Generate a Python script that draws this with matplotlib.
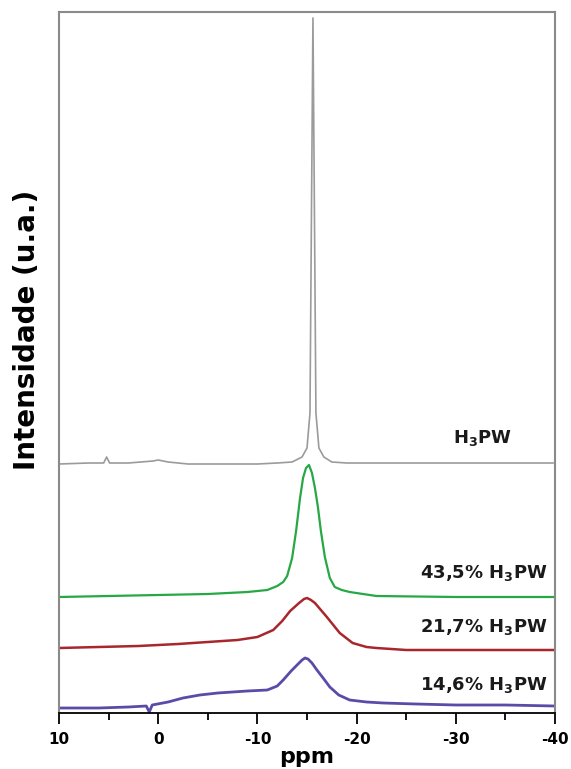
import numpy as np
import matplotlib
matplotlib.use('Agg')
import matplotlib.pyplot as plt
from matplotlib.ticker import MultipleLocator

# 31P NMR spectra (intensity in arbitrary units)
ppm_h3pw = [10, 7, 5.5, 5.2, 4.9, 3, 0.5, 0, -1, -3, -5, -8, -10, -12, -13.5, -14.5, -15.0,
            -15.3, -15.45, -15.6, -15.75, -15.9, -16.2, -16.7, -17.5, -19, -25, -30, -35, -39.8]
int_h3pw = [249, 250, 250, 256, 250, 250, 252, 253, 251, 249, 249, 249, 249, 250, 251, 256, 265,
            300, 500, 695, 500, 300, 265, 256, 251, 250, 250, 250, 250, 250]

ppm_435 = [10, 5, 0, -5, -9, -11, -12, -12.6, -13.0, -13.5, -13.9, -14.3, -14.6, -14.9, -15.2,
           -15.5, -15.8, -16.1, -16.4, -16.8, -17.3, -17.8, -18.5, -19.3, -22, -30, -40]
int_435 = [116, 117, 118, 119, 121, 123, 127, 131, 137, 155, 182, 215, 235, 245, 248,
           240, 225, 206, 182, 156, 135, 126, 123, 121, 117, 116, 116]

ppm_217 = [10, 6, 2, -2, -5, -8, -10, -11.6, -12.5, -13.3, -14.2, -14.7, -15.0, -15.4, -15.8,
           -17.0, -18.3, -19.6, -21, -22, -25, -30, -35, -40]
int_217 = [65, 66, 67, 69, 71, 73, 76, 83, 92, 102, 110, 114, 115, 113, 110,
           96, 80, 70, 66, 65, 63, 63, 63, 63]

ppm_146 = [10, 6, 3, 1.2, 0.9, 0.6, -1, -2.5, -4.2, -6, -7.5, -9, -11, -12, -12.6, -13.4, -14.0,
           -14.5, -14.8, -15.1, -15.5, -16.0, -16.7, -17.3, -18.2, -19.3, -21, -22.7, -26, -30,
           -35, -40]
int_146 = [5, 5, 6, 7, 1, 8, 11, 15, 18, 20, 21, 22, 23, 27, 33, 42, 48,
           53, 55, 54, 50, 43, 34, 26, 18, 13, 11, 10, 9, 8,
           8, 7]

labels = ['H$_3$PW', '43,5% H$_3$PW', '21,7% H$_3$PW', '14,6% H$_3$PW']
label_pos = [(-35.7, 270), (-39.3, 135), (-39.3, 81), (-39.3, 23)]
colors = ['#9b9b9b', '#27a844', '#a8272d', '#5b4ba8']

plt.rcParams['font.family'] = 'DejaVu Sans'
plt.rcParams['font.weight'] = 'bold'
plt.rcParams['axes.unicode_minus'] = False
plt.rcParams['mathtext.fontset'] = 'custom'
plt.rcParams['mathtext.rm'] = 'DejaVu Sans:bold'
plt.rcParams['mathtext.bf'] = 'DejaVu Sans:bold'


def main():
  fig = plt.figure(figsize=(5.71, 7.69), dpi=100)
  ax = fig.add_axes([59/571, 1-713/769, (555-59)/571, (713-12)/769])

  series = [(ppm_h3pw, int_h3pw, 1.2), (ppm_435, int_435, 1.6),
            (ppm_217, int_217, 1.8), (ppm_146, int_146, 2.0)]
  for (xs, ys, lw), col in zip(series, colors):
    ax.plot(xs, ys, color=col, lw=lw)

  for txt, (x, y) in zip(labels, label_pos):
    ax.text(x, y, txt, ha='right', va='baseline', fontsize=13, fontweight='bold', color='#1a1a1a')

  ax.set_xlim(10, -40)
  ax.set_ylim(0, 701)
  ax.xaxis.set_major_locator(MultipleLocator(10))
  ax.xaxis.set_minor_locator(MultipleLocator(5))
  ax.tick_params(axis='x', which='major', direction='out', length=8, width=1.3, labelsize=11, pad=6)
  ax.tick_params(axis='x', which='minor', direction='out', length=5, width=1.3)
  ax.set_yticks([])
  for lab in ax.get_xticklabels():
    lab.set_fontweight('bold')

  for s in ['left', 'right', 'top']:
    ax.spines[s].set_color('#8a8a8a')
    ax.spines[s].set_linewidth(1.5)
  ax.spines['bottom'].set_color('black')
  ax.spines['bottom'].set_linewidth(1.3)

  ax.set_xlabel('ppm', fontsize=16, fontweight='bold', labelpad=0)
  fig.text(27/571, 1-330/769, 'Intensidade (u.a.)', rotation=90, ha='center', va='center',
           fontsize=20, fontweight='bold')

  fig.savefig('out.png', dpi=100)

if __name__ == "__main__":
  main()
